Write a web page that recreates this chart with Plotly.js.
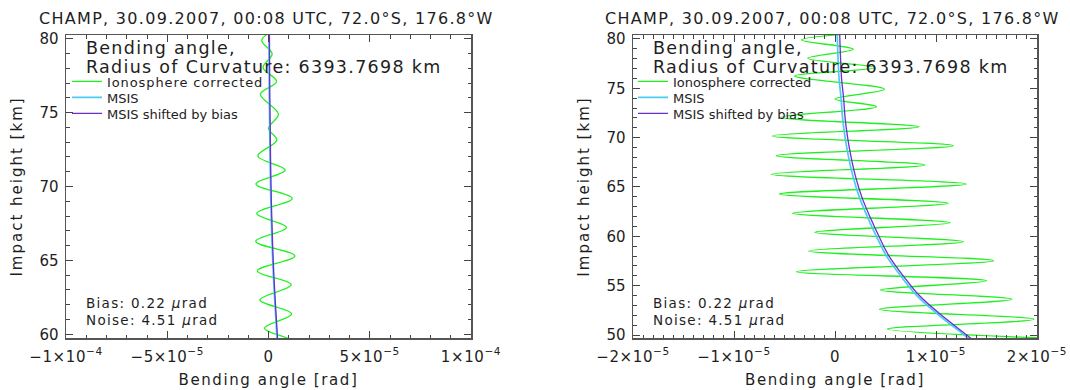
<!DOCTYPE html>
<html><head><meta charset="utf-8">
<script src="https://cdn.plot.ly/plotly-3.0.1.min.js"></script>
<style>
body{margin:0;background:#fff}#chart{width:1070px;height:390px}
.annotation-text{letter-spacing:1.3px}
.legendtext{letter-spacing:0.9px}
.xtitle,.x2title{letter-spacing:1.6px}
.ytitle,.y2title{letter-spacing:2px}
.xtick text,.x2tick text{letter-spacing:0.6px}
</style>
</head><body><div id="chart"></div>
<script>
// Ionosphere corrected bending angle: turning points (height km, angle rad)
const heightIono = [80.75, 79.90, 78.96, 78.05, 77.10, 76.25, 74.90, 73.92, 73.14, 72.06, 71.11, 70.17, 69.19, 68.17, 67.23, 66.29, 65.30, 64.29, 63.35, 62.33, 61.38, 60.41, 59.46, 58.51, 57.53, 56.42, 55.50, 54.56, 53.62, 52.61, 51.59, 50.61, 49.65];
const angleIono = [5.0e-6, -3.3e-6, 1.8e-6, -2.7e-6, 4.0e-6, -4.0e-6, 4.9e-6, 0.0, 4.1e-6, -5.3e-6, 8.3e-6, -6.2e-6, 11.7e-6, -5.8e-6, 8.9e-6, -6.3e-6, 13.0e-6, -5.5e-6, 11.2e-6, -4.2e-6, 11.4e-6, -2.0e-6, 12.7e-6, -2.6e-6, 15.7e-6, -3.8e-6, 15.0e-6, 4.5e-6, 17.5e-6, 4.4e-6, 19.7e-6, 5.2e-6, 22.0e-6];
// MSIS climatology bending angle
const heightMsis = [80.8, 78, 76, 74, 72, 70, 68, 66, 64, 62, 60, 58, 56, 54, 52, 50, 49.5];
const angleMsis = [0.20e-6, 0.30e-6, 0.40e-6, 0.60e-6, 0.75e-6, 1.00e-6, 1.35e-6, 1.80e-6, 2.40e-6, 3.20e-6, 4.10e-6, 5.10e-6, 6.50e-6, 8.10e-6, 10.30e-6, 12.80e-6, 13.40e-6];
const angleMsisShifted = [0.45e-6, 0.55e-6, 0.65e-6, 0.85e-6, 1.00e-6, 1.25e-6, 1.60e-6, 2.05e-6, 2.65e-6, 3.45e-6, 4.35e-6, 5.35e-6, 6.75e-6, 8.35e-6, 10.55e-6, 13.05e-6, 13.65e-6];

const seriesNames = ['Ionosphere corrected', 'MSIS', 'MSIS shifted by bias'];
const titleText = 'CHAMP, 30.09.2007, 00:08 UTC, 72.0°S, 176.8°W';
const headerLines = ['Bending angle,', 'Radius of Curvature: 6393.7698 km'];
const statLines = ['Bias: 0.22 <i>μ</i>rad', 'Noise: 4.51 <i>μ</i>rad'];
const leftXTicks = [-1e-4, -5e-5, 0, 5e-5, 1e-4];
const leftXLabels = ['−1×10<sup>−4</sup>', '−5×10<sup>−5</sup>', '0', '5×10<sup>−5</sup>', '1×10<sup>−4</sup>'];
const rightXTicks = [-2e-5, -1e-5, 0, 1e-5, 2e-5];
const rightXLabels = ['−2×10<sup>−5</sup>', '−1×10<sup>−5</sup>', '0', '1×10<sup>−5</sup>', '2×10<sup>−5</sup>'];
const leftYTicks = [60, 65, 70, 75, 80];
const rightYTicks = [50, 55, 60, 65, 70, 75, 80];

const W = 1070, H = 390;
const px = v => v / W, py = v => 1 - v / H;
const FONT = 'DejaVu Sans';
const TXT = '#1e1e1e';
const colors = ['#1ef01e', '#4ccbf2', '#6a2fd0'];
const widths = [1.3, 1.7, 1.3];

function traces(xa, ya, legs) {
  const xs = [angleIono, angleMsis, angleMsisShifted];
  const ys = [heightIono, heightMsis, heightMsis];
  return xs.map((x, i) => ({
    type: 'scatter', mode: 'lines', x: x, y: ys[i], name: seriesNames[i],
    xaxis: xa, yaxis: ya, legend: legs[i],
    line: {color: colors[i], width: widths[i], shape: 'spline', smoothing: 1}
  }));
}

function xaxis(dom, range, tv, tt, minor, anchor) {
  return {domain: dom, range: range, anchor: anchor, tickmode: 'array', tickvals: tv, ticktext: tt,
    ticks: 'inside', ticklen: 7, tickwidth: 1, tickcolor: '#444', showline: true, linecolor: '#555', linewidth: 1.5,
    mirror: 'ticks', showgrid: false, zeroline: false,
    minor: {ticks: 'inside', ticklen: 3.5, tickwidth: 1, tickcolor: '#444', dtick: minor, tick0: 0, showgrid: false},
    tickfont: {family: FONT, size: 15, color: TXT}, ticklabelstandoff: 4,
    title: {text: 'Bending angle [rad]', font: {family: FONT, size: 15, color: TXT}, standoff: 10}};
}
function yaxis(dom, range, tv, anchor) {
  return {domain: dom, range: range, anchor: anchor, tickmode: 'array', tickvals: tv,
    ticks: 'inside', ticklen: 7, tickwidth: 1, tickcolor: '#444', showline: true, linecolor: '#555', linewidth: 1.5,
    mirror: 'ticks', showgrid: false, zeroline: false,
    minor: {ticks: 'inside', ticklen: 3.5, tickwidth: 1, tickcolor: '#444', dtick: 1, tick0: 0, showgrid: false},
    tickfont: {family: FONT, size: 15, color: TXT}, ticklabelstandoff: 3,
    title: {text: 'Impact height [km]', font: {family: FONT, size: 15, color: TXT}, standoff: 13}};
}

const yDom = [py(338), py(35)];
const panels = [{x0: 66, x1: 471}, {x0: 633, x1: 1037}];
const annotations = [];
panels.forEach(p => {
  const cx = (p.x0 + p.x1) / 2;
  annotations.push({xref: 'paper', yref: 'paper', x: px(cx - 2.5), y: py(18), xanchor: 'center', yanchor: 'middle',
    text: titleText, showarrow: false, font: {family: FONT, size: 16, color: TXT}});
  headerLines.forEach((t, i) => annotations.push({xref: 'paper', yref: 'paper', x: px(p.x0 + 18), y: py(48 + 18.5 * i),
    xanchor: 'left', yanchor: 'middle', text: t, showarrow: false, font: {family: FONT, size: 17.5, color: TXT}}));
  statLines.forEach((t, i) => annotations.push({xref: 'paper', yref: 'paper', x: px(p.x0 + 18), y: py(303 + 17 * i),
    xanchor: 'left', yanchor: 'middle', text: t, showarrow: false, font: {family: FONT, size: 13.5, color: TXT}}));
});

const data = traces('x', 'y', ['legend', 'legend2', 'legend3']).concat(traces('x2', 'y2', ['legend4', 'legend5', 'legend6']));
function legendAt(xp, yp) {
  return {x: px(xp), y: py(yp), bgcolor: 'rgba(0,0,0,0)', borderwidth: 0, xanchor: 'left', yanchor: 'middle',
    font: {family: FONT, size: 13, color: TXT}, itemwidth: 30};
}
const legendRows = [81.5, 97.5, 113.5];
const layout = {
  width: W, height: H, margin: {l: 0, r: 0, t: 0, b: 0}, paper_bgcolor: '#fff', plot_bgcolor: '#fff',
  showlegend: true,
  legend: legendAt(67, legendRows[0]), legend2: legendAt(67, legendRows[1]), legend3: legendAt(67, legendRows[2]),
  legend4: legendAt(633, legendRows[0]), legend5: legendAt(633, legendRows[1]), legend6: legendAt(633, legendRows[2]),
  xaxis: xaxis([px(66), px(471)], [-1e-4, 1e-4], leftXTicks, leftXLabels, 1e-5, 'y'),
  yaxis: yaxis(yDom, [59.75, 80.25], leftYTicks, 'x'),
  xaxis2: xaxis([px(633), px(1037)], [-2e-5, 2e-5], rightXTicks, rightXLabels, 1e-6, 'y2'),
  yaxis2: yaxis(yDom, [49.7, 80.4], rightYTicks, 'x2'),
  annotations: annotations
};
Plotly.newPlot('chart', data, layout, {displayModeBar: false, staticPlot: true});
</script></body></html>
